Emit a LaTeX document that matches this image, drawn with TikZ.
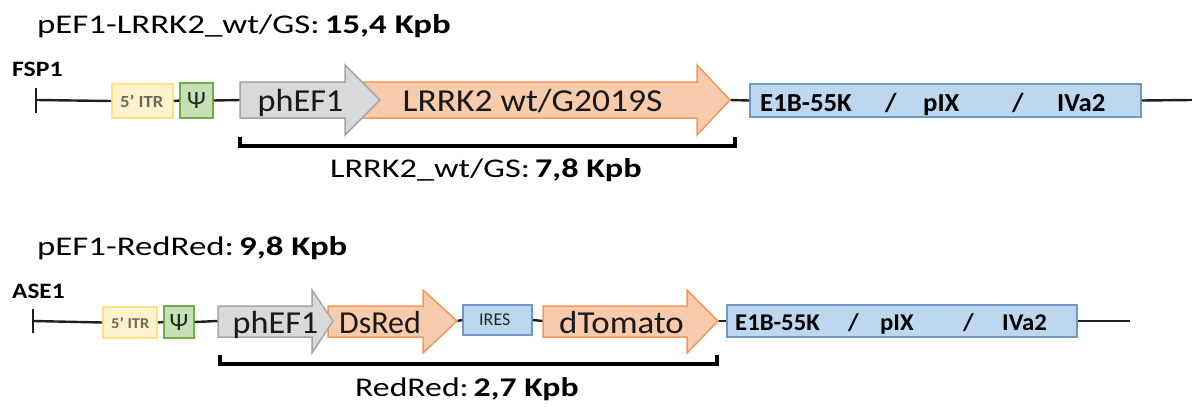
\documentclass[tikz,border=0pt]{standalone}
\usepackage{fontspec}
\usepackage{graphicx}
\setmainfont{Carlito}
\definecolor{itrfill}{HTML}{FFF2CC}
\definecolor{itrdraw}{HTML}{FFE083}
\definecolor{psifill}{HTML}{C5E0B4}
\definecolor{psidraw}{HTML}{70AD47}
\definecolor{grayfill}{HTML}{D9D9D9}
\definecolor{graydraw}{HTML}{A6A6A6}
\definecolor{orfill}{HTML}{F8CBAD}
\definecolor{ordraw}{HTML}{F3995A}
\definecolor{bluefill}{HTML}{BDD7EE}
\definecolor{bluedraw}{HTML}{6F98C4}
\definecolor{itrtext}{HTML}{6B6B5A}
\newcommand{\sx}[2]{\scalebox{#1}[1]{#2}}
\tikzset{
  fs/.style={font=\fontsize{#1}{#1}\selectfont},
  backbone/.style={line width=2.4pt, black!88},
  itrbox/.style={draw=itrdraw, fill=itrfill, line width=1.8pt, inner sep=0pt, text=itrtext},
  psibox/.style={draw=psidraw, fill=psifill, line width=1.5pt, inner sep=0pt, fs=25, text=black!85},
  bluebox/.style={draw=bluedraw, fill=bluefill, line width=1.5pt, inner sep=0pt},
  grayarrow/.style={draw=graydraw, fill=grayfill, line width=1.5pt, line join=miter},
  orarrow/.style={draw=ordraw, fill=orfill, line width=1.5pt, line join=miter},
  bracket/.style={line width=3.2pt, black},
  lbl/.style={inner sep=0pt, anchor=base west},
  arrlbl/.style={inner sep=0pt, anchor=base, fs=32, text=black!90},
}
\begin{document}
\begin{tikzpicture}[x=1pt,y=-1pt]
\useasboundingbox (0,0) rectangle (1192,407);

% ================= Row 1 =================
\node[lbl, fs=27] (t1) at (37,33) {\sx{1.29}{pEF1-LRRK2\_wt/GS:\hspace{4pt}\textbf{15,4 Kpb}}};
\node[lbl, fs=22] (fsp) at (12,76) {\sx{1.17}{\textbf{FSP1}}};

\coordinate (a0) at (36,100);
\coordinate (a0t) at (36,88);
\coordinate (a0b) at (36,113);
\coordinate (aend) at (1192,100);
\draw[backbone] (a0t) -- (a0b);

\node[itrbox, minimum width=61pt, minimum height=34pt] (itr1) at (142.5,101) {};
\node[lbl, fs=17, text=itrtext] at (120,107.5) {\sx{1.1}{\textbf{5’ ITR}}};
\node[psibox, minimum width=33pt, minimum height=35pt] (psi1) at (196.5,100.5) {Ψ};
\node[bluebox, minimum width=391pt, minimum height=33pt] (e1) at (945.5,100.5) {};

\coordinate (g1s) at (240,100);
\coordinate (o1t) at (730,100);

\draw[backbone] (a0) -- (itr1.west);
\draw[backbone] (itr1.east) -- (psi1.west);
\draw[backbone] (psi1.east) -- (g1s);
\draw[backbone] (o1t) -- (e1.west);
\draw[backbone] (e1.east) -- (aend);

\draw[orarrow] (362,82) -- (697,82) -- (697,65) -- (o1t) -- (697,135) -- (697,118) -- (362,118) -- cycle;
\draw[grayarrow] (240,82) -- (345,82) -- (345,65) -- (380,100) -- (345,135) -- (345,118) -- (240,118) -- cycle;

\node[arrlbl] (phef1) at (300.5,111.5) {\sx{1.07}{phEF1}};
\node[arrlbl] (lrrk) at (532.5,111.5) {\sx{1.11}{LRRK2 wt/G2019S}};

\node[lbl, fs=26] at (760,111) {\sx{1.03}{\textbf{E1B-55K}}};
\node[lbl, fs=26] at (885,111) {\sx{1.03}{\textbf{/}}};
\node[lbl, fs=26] at (923,111) {\sx{1.03}{\textbf{pIX}}};
\node[lbl, fs=26] at (1012,111) {\sx{1.03}{\textbf{/}}};
\node[lbl, fs=26] at (1057,111) {\sx{1.03}{\textbf{IVa2}}};

\coordinate (b1a) at (240,137);
\coordinate (b1b) at (735,137);
\draw[bracket] (b1a) -- (240,146) -- (735,146) -- (b1b);
\node[lbl, fs=27] (l1) at (330,177) {\sx{1.27}{LRRK2\_wt/GS:\hspace{4pt}\textbf{7,8 Kpb}}};

% ================= Row 2 =================
\node[lbl, fs=27] (t2) at (37,255) {\sx{1.29}{pEF1-RedRed:\hspace{4pt}\textbf{9,8 Kpb}}};
\node[lbl, fs=22] (ase) at (12,298) {\sx{1.15}{\textbf{ASE1}}};

\coordinate (c0) at (33,321);
\coordinate (c0t) at (33,309);
\coordinate (c0b) at (33,333);
\coordinate (cend) at (1130,321);
\draw[backbone] (c0t) -- (c0b);

\node[itrbox, minimum width=54pt, minimum height=31pt] (itr2) at (130,322.5) {};
\node[lbl, fs=15, text=itrtext] at (111,328) {\sx{1.1}{\textbf{5’ ITR}}};
\node[psibox, minimum width=30pt, minimum height=32pt] (psi2) at (179,322) {Ψ};
\node[bluebox, minimum width=69pt, minimum height=30pt] (ires) at (497.5,320) {};
\node[lbl, fs=18, text=black!85] at (479,325.5) {IRES};
\node[bluebox, minimum width=350pt, minimum height=32pt] (e2) at (902,321) {};

\coordinate (g2s) at (218,321);
\coordinate (d2t) at (457,321);
\coordinate (t2s) at (543,321);
\coordinate (t2t) at (718,321);

\draw[backbone] (c0) -- (itr2.west);
\draw[backbone] (itr2.east) -- (psi2.west);
\draw[backbone] (psi2.east) -- (g2s);
\draw[backbone] (d2t) -- (ires.west);
\draw[backbone] (ires.east) -- (t2s);
\draw[backbone] (t2t) -- (e2.west);
\draw[backbone] (e2.east) -- (cend);

\draw[orarrow] (328,306) -- (423,306) -- (423,290) -- (d2t) -- (423,353) -- (423,337) -- (328,337) -- cycle;
\draw[grayarrow] (218,306) -- (312,306) -- (312,290) -- (333,321) -- (312,353) -- (312,337) -- (218,337) -- cycle;
\draw[orarrow] (543,306) -- (687,306) -- (687,290) -- (t2t) -- (687,353) -- (687,337) -- (543,337) -- cycle;

\node[arrlbl] (phef2) at (275.5,333) {\sx{1.07}{phEF1}};
\node[arrlbl] (dsred) at (380,333) {\sx{1.0}{DsRed}};
\node[arrlbl] (dtom) at (621.5,333) {\sx{1.09}{dTomato}};

\node[lbl, fs=24] at (735,330) {\sx{1.03}{\textbf{E1B-55K}}};
\node[lbl, fs=24] at (848,330) {\sx{1.03}{\textbf{/}}};
\node[lbl, fs=24] at (880,330) {\sx{1.03}{\textbf{pIX}}};
\node[lbl, fs=24] at (963,330) {\sx{1.03}{\textbf{/}}};
\node[lbl, fs=24] at (1002,330) {\sx{1.03}{\textbf{IVa2}}};

\coordinate (b2a) at (220,355);
\coordinate (b2b) at (717,355);
\draw[bracket] (b2a) -- (220,364) -- (717,364) -- (b2b);
\node[lbl, fs=27] (l2) at (355,396) {\sx{1.25}{RedRed:\hspace{4pt}\textbf{2,7 Kpb}}};
\end{tikzpicture}
\end{document}
